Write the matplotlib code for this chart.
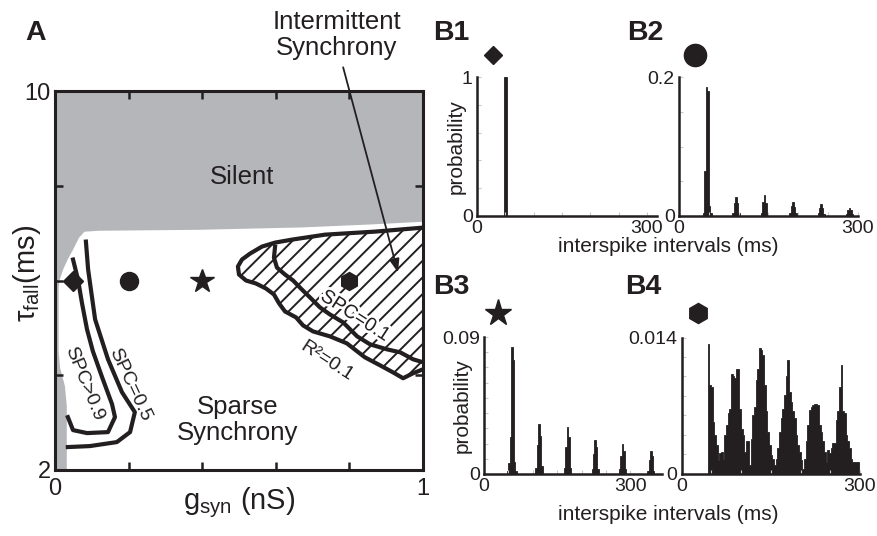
import numpy as np
import matplotlib
matplotlib.use('Agg')
import matplotlib.pyplot as plt
import matplotlib.patheffects as pe

plt.rcParams['font.family'] = ['Liberation Sans', 'DejaVu Sans']
plt.rcParams['mathtext.fontset'] = 'custom'
plt.rcParams['mathtext.rm'] = 'Liberation Sans'
plt.rcParams['mathtext.it'] = 'Liberation Sans:italic'
plt.rcParams['mathtext.default'] = 'regular'
plt.rcParams['hatch.linewidth'] = 1.4
plt.rcParams['hatch.color'] = '#231f20'

INK = '#231f20'
GREY = '#b5b6b9'

# ---- A: regimes in the (g_syn, tau_fall) plane ----
silent_g = [1.0, 1.0, 0.85, 0.67, 0.39, 0.12, 0.08, 0.065, 0.049, 0.035, 0.022,
            0.012, 0.010, 0.010, 0.014, 0.027, 0.032, 0.032, 0.0, 0.0]
silent_tau = [10.0, 7.24, 7.18, 7.12, 7.07, 7.05, 7.03, 6.9, 6.65, 6.45, 6.23,
              6.0, 5.85, 4.5, 4.15, 3.77, 3.35, 2.0, 2.0, 10.0]

# R^2 = 0.1 boundary of intermittent synchrony
r2_g = [1.000, 0.870, 0.734, 0.644, 0.598, 0.5625, 0.530, 0.508, 0.497, 0.500,
        0.519, 0.546, 0.573, 0.595, 0.609, 0.625, 0.655, 0.674, 0.701, 0.747,
        0.793, 0.821, 0.842, 0.883, 0.918, 0.946, 0.973, 1.000]
r2_tau = [7.116, 7.032, 6.968, 6.863, 6.800, 6.716, 6.568, 6.442, 6.295, 6.126,
          6.000, 5.937, 5.832, 5.705, 5.516, 5.347, 5.221, 5.053, 4.926, 4.821,
          4.674, 4.505, 4.379, 4.211, 4.063, 3.937, 4.042, 4.126]

# SPC = 0.1 contour
spc01_g = [0.598, 0.595, 0.603, 0.625, 0.647, 0.668, 0.693, 0.720, 0.747, 0.783,
           0.821, 0.856, 0.902, 0.938, 0.973, 1.000]
spc01_tau = [6.716, 6.484, 6.274, 6.126, 6.000, 5.832, 5.642, 5.432, 5.284, 5.116,
             4.821, 4.653, 4.547, 4.484, 4.337, 4.274]

# SPC = 0.5 contour
spc05_g = [0.084, 0.090, 0.109, 0.144, 0.182, 0.217, 0.204, 0.168, 0.095, 0.035]
spc05_tau = [6.821, 6.232, 5.179, 4.337, 3.642, 3.221, 2.800, 2.589, 2.505, 2.484]

# SPC > 0.9 contour
spc09_g = [0.049, 0.0625, 0.073, 0.087, 0.103, 0.128, 0.155, 0.163, 0.144, 0.087,
           0.049, 0.035]
spc09_tau = [6.442, 6.021, 5.537, 4.968, 4.505, 3.958, 3.389, 3.116, 2.800, 2.779,
             2.842, 3.116]

# example parameter sets shown in B1-B4
ex_g = [0.05, 0.2, 0.4, 0.8]
ex_tau = [6.0, 6.0, 6.0, 6.0]
ex_marker = ['D', 'o', '*', 'h']
ex_size = [10, 13, 17.5, 13]

# ---- B: ISI histograms ----
b1_isi = [51]
b1_prob = [1.0]

b2_bin = 2.5
b2_isi = [41.25, 43.75, 46.25, 48.75, 51.25, 53.75,
          90.7, 93.2, 95.7, 98.2, 100.7,
          138.3, 140.8, 143.3, 145.8, 148.3,
          185.8, 188.3, 190.8, 193.3, 195.8,
          233.4, 235.9, 238.4, 240.9, 243.4,
          281.0, 283.5, 286.0, 288.5, 291.0]
b2_prob = [0.005, 0.065, 0.186, 0.180, 0.015, 0.004,
           0.005, 0.019, 0.0275, 0.018, 0.005,
           0.005, 0.020, 0.030, 0.019, 0.005,
           0.004, 0.014, 0.020, 0.013, 0.004,
           0.004, 0.012, 0.017, 0.011, 0.003,
           0.003, 0.009, 0.012, 0.008, 0.003]

b3_bin = 3.0
b3_isi = [48, 51, 54, 57, 60, 63, 66,
          107, 110, 113, 116, 119,
          165, 168, 171, 174, 177,
          222, 225, 228, 231, 234,
          278, 281, 284, 287, 290,
          336, 339, 342, 345, 348]
b3_prob = [0.002, 0.007, 0.024, 0.0837, 0.075, 0.008, 0.002,
           0.004, 0.019, 0.0326, 0.025, 0.005,
           0.004, 0.018, 0.0309, 0.024, 0.004,
           0.003, 0.013, 0.0223, 0.018, 0.003,
           0.003, 0.012, 0.0195, 0.015, 0.003,
           0.002, 0.009, 0.0153, 0.012, 0.002]

b4_start = 43.5
b4_bin = 2.8
b4_prob_e3 = [13.35, 9.1, 8.9, 5.3, 4.0, 2.9, 1.4, 2.1, 2.2, 1.5,
              4.0, 5.0, 6.2, 6.7, 10.3, 10.1, 9.8, 10.8, 10.8, 6.7,
              4.6, 4.0, 2.2, 3.4, 3.3, 0.9, 3.6, 6.0, 6.9, 9.6,
              10.8, 12.9, 12.7, 12.2, 9.1, 6.4, 4.3, 2.9, 1.9, 1.5,
              0.9, 1.5, 2.6, 4.3, 5.7, 6.7, 8.1, 10.0, 11.7, 8.4,
              7.4, 6.4, 5.7, 4.0, 2.9, 2.2, 1.4, 0.5, 1.5, 3.3,
              5.0, 6.5, 6.9, 7.1, 7.2, 7.2, 7.1, 5.0, 4.3, 3.3,
              2.2, 1.2, 2.4, 2.1, 2.6, 3.1, 3.1, 5.5, 6.4, 8.9,
              11.2, 6.4, 6.2, 4.0, 3.3, 2.6, 1.5, 1.2, 1.2, 1.2, 1.2]


fig = plt.figure(figsize=(8.78, 5.36), dpi=100)
W, H = 878.0, 536.0


def rect(left, top, right, bottom):
    return [left / W, 1 - bottom / H, (right - left) / W, (bottom - top) / H]


# ---------------- panel A ----------------
axA = fig.add_axes(rect(55, 91, 423, 470))
axA.set_xlim(0, 1)
axA.set_ylim(2, 10)

axA.fill(silent_g, silent_tau, color=GREY, lw=0, zorder=1)
axA.fill(r2_g, r2_tau, facecolor='white', edgecolor=INK, hatch='//', lw=0, zorder=2)
for gx, ty in [(r2_g, r2_tau), (spc01_g, spc01_tau), (spc05_g, spc05_tau),
               (spc09_g, spc09_tau)]:
    axA.plot(gx, ty, color=INK, lw=3, solid_joinstyle='round', zorder=3)

for g, t, m, s in zip(ex_g, ex_tau, ex_marker, ex_size):
    axA.plot(g, t, marker=m, ms=s, color=INK, mec=INK, zorder=5, clip_on=False)

halo = [pe.withStroke(linewidth=4, foreground='white')]
axA.text(0.815, 5.24, 'SPC=0.1', rotation=-33, ha='center', va='center',
         fontsize=14, color=INK, path_effects=halo, zorder=4)
axA.text(0.739, 4.30, 'R\u00b2=0.1', rotation=-33, ha='center', va='center',
         fontsize=14, color=INK, zorder=4)
axA.text(0.204, 3.81, 'SPC=0.5', rotation=-65, ha='center', va='center',
         fontsize=14, color=INK, zorder=4)
axA.text(0.079, 3.83, 'SPC>0.9', rotation=-68, ha='center', va='center',
         fontsize=14, color=INK, zorder=4)

axA.text(0.508, 8.19, 'Silent', ha='center', va='center', fontsize=18.5, color=INK)
axA.text(0.497, 3.05, 'Sparse\nSynchrony', ha='center', va='center',
         fontsize=18.5, color=INK, linespacing=1.1)
axA.text(0.766, 11.18, 'Intermittent\nSynchrony', ha='center', va='center',
         fontsize=18.5, color=INK, linespacing=1.1, clip_on=False)
axA.annotate('', xy=(0.932, 6.17), xytext=(0.783, 10.5), annotation_clip=False,
             arrowprops=dict(arrowstyle='-|>,head_length=0.8,head_width=0.3',
                             color=INK, lw=1.3, shrinkA=0, shrinkB=0), zorder=6)

axA.set_xticks([0, 0.2, 0.4, 0.6, 0.8, 1.0])
axA.set_xticklabels(['0', '', '', '', '', '1'])
axA.set_yticks([2, 4, 6, 8, 10])
axA.set_yticklabels(['2', '', '', '', '10'])
axA.tick_params(direction='in', top=True, right=True, length=6, width=1.8,
                labelsize=17, colors=INK)
axA.tick_params(axis='x', pad=6)
axA.tick_params(axis='y', pad=3)
for sp in axA.spines.values():
    sp.set_linewidth(2.2)
    sp.set_color(INK)
    sp.set_zorder(7)
axA.set_xlabel(r'$g_{syn}$ (nS)', fontsize=21, color=INK)
axA.xaxis.set_label_coords(0.5, -0.04)
axA.set_ylabel(r'$\tau_{fall}$(ms)', fontsize=21, color=INK)
axA.yaxis.set_label_coords(-0.033, 0.52)


# ---------------- panels B1-B4 ----------------
def isi_axes(box, xmax, ymax, ytop_label, yminor):
    ax = fig.add_axes(rect(*box))
    ax.set_xlim(0, xmax)
    ax.set_ylim(0, ymax)
    for side in ['top', 'right']:
        ax.spines[side].set_visible(False)
    for side in ['left', 'bottom']:
        ax.spines[side].set_linewidth(1.8)
        ax.spines[side].set_color(INK)
        ax.spines[side].set_zorder(4)
    ax.set_xticks([0, 300])
    ax.set_xticklabels(['0', '300'])
    ax.set_yticks([0, ymax])
    ax.set_yticklabels(['0', ytop_label])
    ax.set_xticks(np.arange(50, 300, 50), minor=True)
    ax.set_yticks(np.arange(yminor, ymax, yminor), minor=True)
    ax.tick_params(which='both', direction='in', length=3, width=0.8,
                   color='#c8c8c8', labelsize=14, labelcolor=INK, pad=3)
    return ax


hist_style = dict(color=INK, edgecolor=INK, lw=0.6)

axB1 = isi_axes((477, 77, 657, 216), 318, 1.0, '1', 0.2)
axB1.bar(b1_isi, b1_prob, width=5, **hist_style)
axB1.set_ylabel('probability', fontsize=15, color=INK)
axB1.yaxis.set_label_coords(-0.061, 0.5)

axB2 = isi_axes((679, 77, 858, 216), 300, 0.2, '0.2', 0.05)
axB2.bar(b2_isi, b2_prob, width=b2_bin, **hist_style)

axB3 = isi_axes((484, 337, 662, 474), 365, 0.09, '0.09', 0.01)
axB3.bar(b3_isi, b3_prob, width=b3_bin, **hist_style)
axB3.set_ylabel('probability', fontsize=15, color=INK)
axB3.yaxis.set_label_coords(-0.067, 0.5)

axB4 = isi_axes((681.7, 337.7, 860, 473.5), 300, 0.014, '0.014', 0.002)
b4_prob = np.array(b4_prob_e3) * 1e-3
b4_edges = b4_start + b4_bin * np.arange(len(b4_prob) + 1)
axB4.stairs(b4_prob, b4_edges, fill=True, facecolor=INK, edgecolor=INK, lw=0.6)

# symbols tying each histogram to its point in A
for ax, (fx, fy), m, s in [(axB1, (0.089, 1.158), 'D', 9.2),
                           (axB2, (0.089, 1.158), 'o', 16),
                           (axB3, (0.079, 1.175), '*', 20),
                           (axB4, (0.091, 1.182), 'h', 14.5)]:
    ax.plot(fx, fy, marker=m, ms=s, color=INK, transform=ax.transAxes, clip_on=False)

fig.text(668 / W, 1 - 247 / H, 'interspike intervals (ms)', ha='center', va='center',
         fontsize=15, color=INK)
fig.text(668 / W, 1 - 515 / H, 'interspike intervals (ms)', ha='center', va='center',
         fontsize=15, color=INK)

for label, x, y in [('A', 25, 33), ('B1', 433, 33), ('B2', 627, 33),
                    ('B3', 433, 287), ('B4', 625, 287)]:
    fig.text(x / W, 1 - y / H, label, ha='left', va='center', fontsize=20.5,
             fontweight='bold', color=INK)

fig.savefig('out.png', dpi=100)
